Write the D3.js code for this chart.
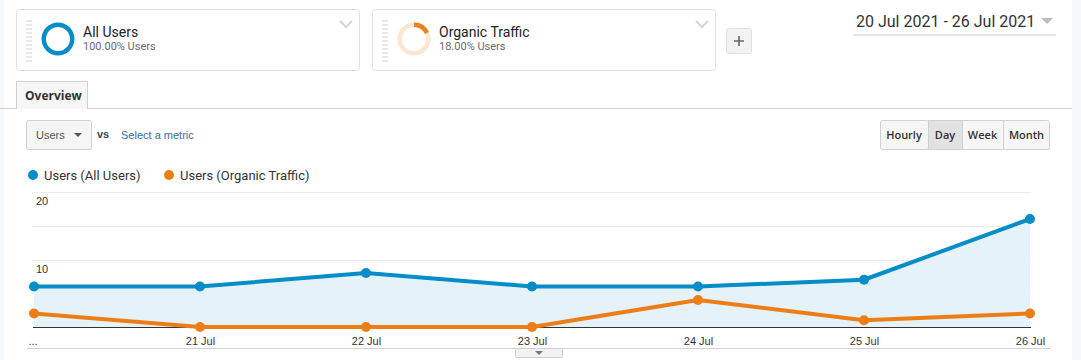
<!DOCTYPE html>
<html><head><meta charset="utf-8">
<script src="https://cdn.jsdelivr.net/npm/d3@7"></script>
<style>
html,body{margin:0;padding:0;background:#fff;}
svg{display:block;}
</style></head>
<body>
<script>
const categories = ["20 Jul","21 Jul","22 Jul","23 Jul","24 Jul","25 Jul","26 Jul"];
const tickLabels = ["...","21 Jul","22 Jul","23 Jul","24 Jul","25 Jul","26 Jul"];
const allUsers = [6,6,8,6,6,7,16];
const organicTraffic = [2,0,0,0,4,1,2];
const yTicks = [0,5,10,15,20];
const yLabels = [10,20];
const segments = [{name:"All Users", pct:"100.00% Users", share:1.0},{name:"Organic Traffic", pct:"18.00% Users", share:0.18}];
const seriesNames = ["Users (All Users)","Users (Organic Traffic)"];
const periodButtons = ["Hourly","Day","Week","Month"];
const dateRange = "20 Jul 2021 - 26 Jul 2021";

const W=1081,H=360;
const BLUE="#058dc7", ORANGE="#ed7e17";
const svg=d3.select("body").append("svg").attr("width",W).attr("height",H);
const ROBOTO="Roboto, Arial, sans-serif";
const ARIAL="'Liberation Sans', Arial, sans-serif";
const OPEN="'Open Sans', Arial, sans-serif";

// side strips
svg.append("rect").attr("x",1072).attr("y",0).attr("width",9).attr("height",H).attr("fill","#f7f8fa");
svg.append("rect").attr("x",0).attr("y",0).attr("width",4).attr("height",H).attr("fill","#f7f8fa");

// segment cards
const cardX=[16,372];
segments.forEach((s,i)=>{
  const g=svg.append("g").attr("transform",`translate(${cardX[i]},9)`);
  g.append("rect").attr("x",0.5).attr("y",0.5).attr("width",343).attr("height",61).attr("rx",3)
   .attr("fill","#fff").attr("stroke","#e0e0e0");
  g.append("line").attr("x1",13).attr("x2",13).attr("y1",11).attr("y2",53)
   .attr("stroke","#e8e8e8").attr("stroke-width",6).attr("stroke-dasharray","2,2");
  const arc=d3.arc().innerRadius(12).outerRadius(16.5);
  const cg=g.append("g").attr("transform","translate(42,30)");
  const color=i===0?BLUE:"#e8811e";
  cg.append("path").attr("d",arc({startAngle:0,endAngle:2*Math.PI})).attr("fill",i===0?BLUE:"#fbe6d2");
  if(s.share<1) cg.append("path").attr("d",arc({startAngle:0,endAngle:2*Math.PI*s.share})).attr("fill",color);
  g.append("text").attr("x",67).attr("y",28).attr("font-family",ROBOTO).attr("font-size",14).attr("fill","#222").text(s.name);
  g.append("text").attr("x",67).attr("y",41).attr("font-family",ROBOTO).attr("font-size",11).attr("fill","#6a6a6a").text(s.pct);
  g.append("path").attr("d","M324,12 L330,18 L336,12").attr("fill","none").attr("stroke","#d5d5d5").attr("stroke-width",2);
});
// plus button
svg.append("rect").attr("x",726.5).attr("y",28.5).attr("width",25).attr("height",25).attr("rx",2).attr("fill","#f2f2f2").attr("stroke","#e0e0e0");
svg.append("path").attr("d","M739,36 V46 M734,41 H744").attr("stroke","#666").attr("stroke-width",1.6);

// date range
svg.append("text").attr("x",856).attr("y",27).attr("font-family",ROBOTO).attr("font-size",16).attr("fill","#333").text(dateRange);
svg.append("path").attr("d","M1041,18 L1053,18 L1047,24 Z").attr("fill","#bdbdbd");
svg.append("line").attr("x1",853).attr("x2",1056).attr("y1",35).attr("y2",35).attr("stroke","#e8e8e8").attr("stroke-width",2);

// overview tab
svg.append("line").attr("x1",0).attr("x2",1072).attr("y1",108.5).attr("y2",108.5).attr("stroke","#cfcfcf");
svg.append("path").attr("d","M16.5,109 V81.5 H87.5 V109").attr("fill","#f6f6f6").attr("stroke","#cfcfcf");
svg.append("text").attr("x",25).attr("y",100).attr("font-family",OPEN).attr("font-weight",700).attr("font-size",12).attr("fill","#333").text("Overview");

// metric dropdown
svg.append("rect").attr("x",26.5).attr("y",120.5).attr("width",65).attr("height",29).attr("rx",2).attr("fill","#f5f5f5").attr("stroke","#d0d0d0");
svg.append("text").attr("x",36).attr("y",139).attr("font-family",ARIAL).attr("font-size",11).attr("fill","#555").text("Users");
svg.append("path").attr("d","M74,133 L82,133 L78,137 Z").attr("fill","#555");
svg.append("text").attr("x",97).attr("y",138).attr("font-family",ARIAL).attr("font-size",11).attr("font-weight",700).attr("fill","#444").text("vs");
svg.append("text").attr("x",121).attr("y",139).attr("font-family",ARIAL).attr("font-size",11).attr("fill","#3c6aa5").text("Select a metric");

// period buttons
const btnX=[880,928,962,1003,1050];
periodButtons.forEach((b,i)=>{
  const x0=btnX[i],x1=btnX[i+1];
  svg.append("rect").attr("x",x0+0.5).attr("y",120.5).attr("width",x1-x0-1+ (i===3?0:1)).attr("height",29)
   .attr("fill",i===1?"#e2e2e2":"#f6f6f6").attr("stroke","#d0d0d0").attr("rx",i===0||i===3?2:0);
  svg.append("text").attr("x",(x0+x1)/2).attr("y",139).attr("text-anchor","middle").attr("font-family",OPEN)
   .attr("font-weight",600).attr("font-size",11).attr("fill","#333").text(b);
});

// legend
const legX=[33,169];
seriesNames.forEach((n,i)=>{
  svg.append("circle").attr("cx",legX[i]).attr("cy",175).attr("r",5).attr("fill",i===0?BLUE:ORANGE);
  svg.append("text").attr("x",legX[i]+11).attr("y",180).attr("font-family",ROBOTO).attr("font-size",13).attr("fill","#333").text(n);
});

// chart
const x=d3.scalePoint().domain(categories).range([34,1030]);
const y=d3.scaleLinear().domain([0,20]).range([327,192]);
const gridG=svg.append("g");
yTicks.forEach(t=>{ if(t>0) gridG.append("line").attr("x1",32).attr("x2",1031).attr("y1",Math.round(y(t))+0.5).attr("y2",Math.round(y(t))+0.5).attr("stroke","#ececec"); });
yLabels.forEach(t=>{
  svg.append("text").attr("x",36).attr("y",y(t)+13).attr("font-family",ARIAL).attr("font-size",11).attr("fill","#333").text(t);
});
const area=d3.area().x((d,i)=>x(categories[i])).y0(y(0)).y1(d=>y(d));
svg.append("path").datum(allUsers).attr("d",area).attr("fill","#e5f2f9");
svg.append("line").attr("x1",33).attr("x2",1031).attr("y1",y(0)+0.5).attr("y2",y(0)+0.5).attr("stroke","#333");
const line=d3.line().x((d,i)=>x(categories[i])).y(d=>y(d));
[[organicTraffic,ORANGE],[allUsers,BLUE]].forEach(([data,c])=>{
  svg.append("path").datum(data).attr("d",line).attr("fill","none").attr("stroke",c).attr("stroke-width",4).attr("stroke-linejoin","round");
  svg.selectAll(null).data(data).enter().append("circle").attr("cx",(d,i)=>x(categories[i])).attr("cy",d=>y(d)).attr("r",5).attr("fill",c);
});
// x axis labels
const xAxis=d3.axisBottom(x).tickSize(0).tickFormat((d,i)=>tickLabels[i]);
const ax=svg.append("g").attr("transform",`translate(0,${y(0)})`).call(xAxis);
ax.select(".domain").remove();
ax.selectAll("text").attr("font-family",ARIAL).attr("font-size",11).attr("fill","#333").attr("dy","1.35em");
ax.selectAll(".tick").filter((d,i)=>i===0).select("text").attr("text-anchor","start").attr("dx",-6);

// bottom line and tab
svg.append("line").attr("x1",27).attr("x2",1050).attr("y1",348.5).attr("y2",348.5).attr("stroke","#d0d0d0");
svg.append("rect").attr("x",515.5).attr("y",348.5).attr("width",47).attr("height",9).attr("rx",1).attr("fill","#f2f2f2").attr("stroke","#d0d0d0");
svg.append("path").attr("d","M535,351 L543,351 L539,355 Z").attr("fill","#777");
</script>
</body></html>
